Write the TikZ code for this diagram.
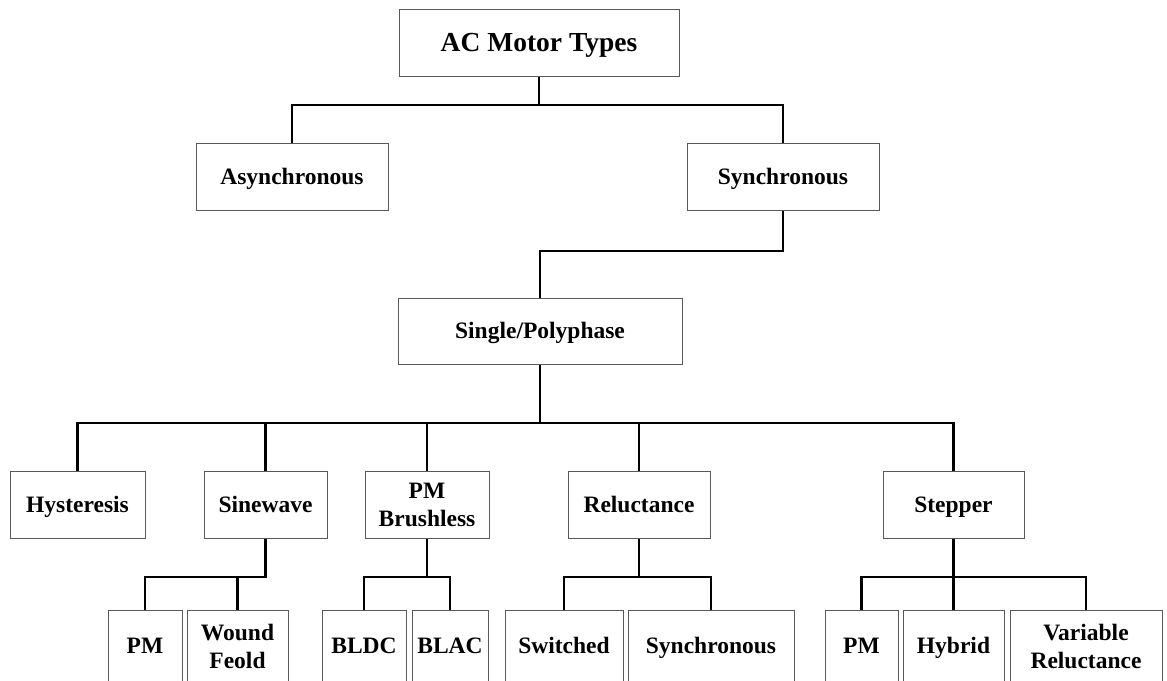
\documentclass[tikz,border=0pt]{standalone}
\usepackage{fontspec}
\setmainfont{Liberation Serif}
\begin{document}
\begin{tikzpicture}[x=1pt,y=-1pt,
  box/.style={draw=black!65, line width=1pt, rectangle, inner sep=0pt, align=center,
    font=\bfseries\fontsize{23.5}{28}\selectfont},
  one/.style={box, text height=20.6pt, text depth=5pt},
  title/.style={box, font=\bfseries\fontsize{27.5}{32}\selectfont, text height=24.2pt, text depth=6pt},
  conn/.style={line width=2.5pt, black, line join=miter}]
\useasboundingbox (0,0) rectangle (1167,680);
% top levels
\node[title, minimum width=280pt, minimum height=67pt] (ac) at (539,42.5) {AC Motor Types};
\node[one, minimum width=192pt, minimum height=67pt] (async) at (292,176.5) {Asynchronous};
\node[one, minimum width=192pt, minimum height=67pt] (sync) at (783,176.5) {Synchronous};
\node[one, minimum width=284pt, minimum height=66pt] (sp) at (540,331) {Single/Polyphase};
% middle row
\node[one, minimum width=135pt, minimum height=67pt] (hys) at (77.5,504.5) {Hysteresis};
\node[one, minimum width=123pt, minimum height=67pt] (sine) at (265.5,504.5) {Sinewave};
\node[box, minimum width=124pt, minimum height=67pt] (pmb) at (427,504.5) {PM\\Brushless};
\node[one, minimum width=142pt, minimum height=67pt] (rel) at (639,504.5) {Reluctance};
\node[one, minimum width=141pt, minimum height=67pt] (stp) at (953.5,504.5) {Stepper};
% bottom row
\node[one, minimum width=74pt, minimum height=72pt] (pma) at (145,646) {PM};
\node[box, minimum width=101pt, minimum height=72pt] (wound) at (237.5,646) {Wound\\Feold};
\node[one, minimum width=84pt, minimum height=72pt] (bldc) at (364,646) {BLDC};
\node[one, minimum width=76pt, minimum height=72pt] (blac) at (450,646) {BLAC};
\node[one, minimum width=118pt, minimum height=72pt] (sw) at (564,646) {Switched};
\node[one, minimum width=166pt, minimum height=72pt] (syn) at (711,646) {Synchronous};
\node[one, minimum width=73pt, minimum height=72pt] (pmb2) at (861.5,646) {PM};
\node[one, minimum width=101pt, minimum height=72pt] (hyb) at (953.5,646) {Hybrid};
\node[box, minimum width=152pt, minimum height=72pt] (vr) at (1086,646) {Variable\\Reluctance};
% bus levels
\coordinate (b1) at (0,105);
\coordinate (b2) at (0,251);
\coordinate (b3) at (0,423);
\coordinate (b4) at (0,577);
% connectors
\draw[conn] (ac.south) -- (ac.south |- b1);
\draw[conn] (async.north) -- (async.north |- b1) -- (sync.north |- b1) -- (sync.north);
\draw[conn] (sync.south) -- (sync.south |- b2) -- (sp.north |- b2) -- (sp.north);
\draw[conn] (sp.south) -- (sp.south |- b3);
\draw[conn] (hys.north) -- (hys.north |- b3) -- (stp.north |- b3) -- (stp.north);
\draw[conn] (sine.north) -- (sine.north |- b3);
\draw[conn] (pmb.north) -- (pmb.north |- b3);
\draw[conn] (rel.north) -- (rel.north |- b3);
\draw[conn] (pma.north) -- (pma.north |- b4) -- (sine.south |- b4) -- (sine.south);
\draw[conn] (wound.north) -- (wound.north |- b4);
\draw[conn] (bldc.north) -- (bldc.north |- b4) -- (blac.north |- b4) -- (blac.north);
\draw[conn] (pmb.south) -- (pmb.south |- b4);
\draw[conn] (sw.north) -- (sw.north |- b4) -- (syn.north |- b4) -- (syn.north);
\draw[conn] (rel.south) -- (rel.south |- b4);
\draw[conn] (pmb2.north) -- (pmb2.north |- b4) -- (vr.north |- b4) -- (vr.north);
\draw[conn] (stp.south) -- (stp.south |- b4);
\draw[conn] (hyb.north) -- (hyb.north |- b4);
\end{tikzpicture}
\end{document}
